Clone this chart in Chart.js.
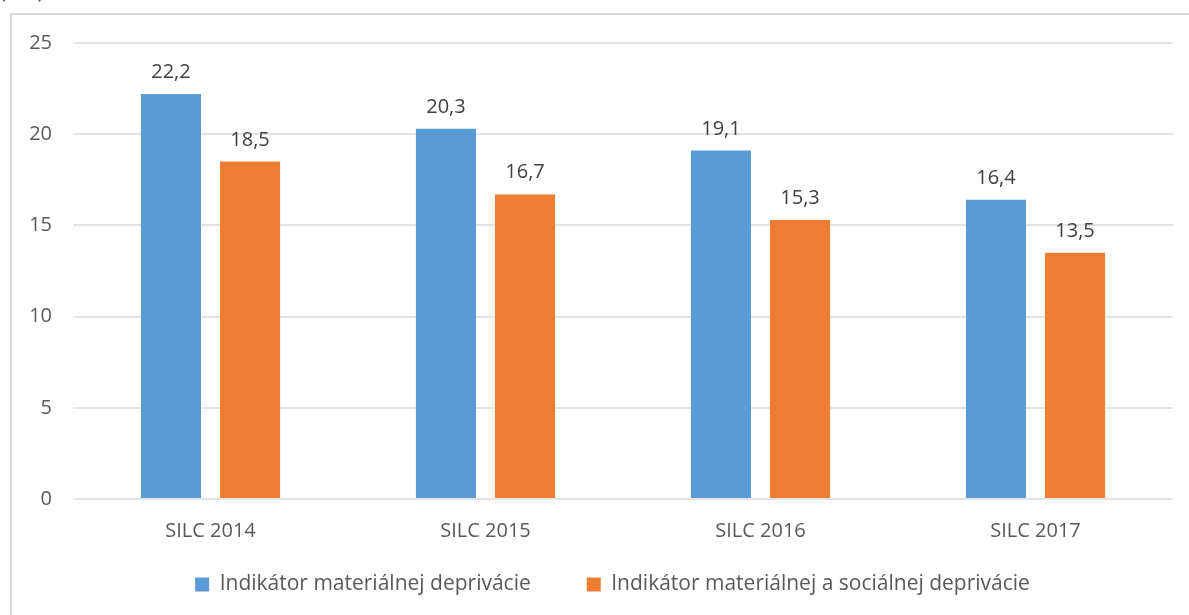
<!DOCTYPE html>
<html>
<head>
<meta charset="utf-8">
<script src="https://cdn.jsdelivr.net/npm/chart.js@4.4.0/dist/chart.umd.min.js"></script>
<style>
  html, body { margin: 0; padding: 0; background: #ffffff; overflow: hidden; }
  #wrap { position: relative; width: 1189px; height: 615px; overflow: hidden; }
  #frame { position: absolute; left: 10px; top: 13px; width: 1200px; height: 700px; border: 2px solid #d9d9d9; box-sizing: border-box; }
  #unit { position: absolute; left: 0px; top: -23px; font: 20px "Open Sans", sans-serif; color: #404040; white-space: nowrap; }
  canvas { position: absolute; left: 0; top: 0; }
</style>
</head>
<body>
<div id="wrap">
  <div id="unit">(v %)</div>
  <div id="frame"></div>
  <canvas id="c" width="1189" height="615"></canvas>
</div>
<script>
const categories = ["SILC 2014", "SILC 2015", "SILC 2016", "SILC 2017"];
const seriesNames = ["Indikátor materiálnej deprivácie", "Indikátor materiálnej a sociálnej deprivácie"];
const materialDeprivation = [22.2, 20.3, 19.1, 16.4];
const materialSocialDeprivation = [18.5, 16.7, 15.3, 13.5];
const yTicks = [0, 5, 10, 15, 20, 25];

const FONT = '"Open Sans", sans-serif';
const TEXT = '#595959';

const valueLabels = {
  id: 'valueLabels',
  afterDatasetsDraw(chart) {
    const ctx = chart.ctx;
    ctx.save();
    ctx.font = '20px ' + FONT;
    ctx.fillStyle = '#404040';
    ctx.textAlign = 'center';
    ctx.textBaseline = 'alphabetic';
    chart.data.datasets.forEach((ds, i) => {
      chart.getDatasetMeta(i).data.forEach((bar, j) => {
        ctx.fillText(ds.data[j].toFixed(1).replace('.', ','), bar.x, bar.y - 16);
      });
    });
    ctx.restore();
  }
};

const legendPlacer = {
  id: 'legendPlacer',
  afterLayout(chart) {
    const l = chart.legend;
    if (!l) return;
    l.left += 26; l.right += 26;
    l.top = 518; l.bottom = 615; l.height = l.bottom - l.top;
  }
};

new Chart(document.getElementById('c'), {
  type: 'bar',
  data: {
    labels: categories,
    datasets: [
      { label: seriesNames[0], data: materialDeprivation, backgroundColor: '#5B9BD5', barPercentage: 0.76, categoryPercentage: 0.575 },
      { label: seriesNames[1], data: materialSocialDeprivation, backgroundColor: '#ED7D31', barPercentage: 0.76, categoryPercentage: 0.575 }
    ]
  },
  options: {
    responsive: false,
    animation: false,
    devicePixelRatio: 1,
    layout: { padding: { left: 0, right: 16, top: 43, bottom: 0 } },
    scales: {
      x: {
        grid: { display: false, drawTicks: false },
        border: { display: false },
        ticks: { color: TEXT, font: { family: FONT, size: 20 }, padding: 20 },
        afterFit(s) { s.height = 76; }
      },
      y: {
        min: 0, max: 25,
        afterBuildTicks(s) { s.ticks = yTicks.map(v => ({ value: v })); },
        grid: { color: '#e3e3e3', lineWidth: 2, drawTicks: false },
        border: { display: false },
        ticks: { color: TEXT, font: { family: FONT, size: 20 }, padding: 21 },
        afterFit(s) { s.width = 73; }
      }
    },
    plugins: {
      legend: {
        position: 'bottom',
        maxHeight: 40,
        labels: { color: TEXT, font: { family: FONT, size: 21 }, boxWidth: 14, boxHeight: 14, padding: 56 }
      },
      tooltip: { enabled: false }
    }
  },
  plugins: [valueLabels, legendPlacer]
});
</script>
</body>
</html>
